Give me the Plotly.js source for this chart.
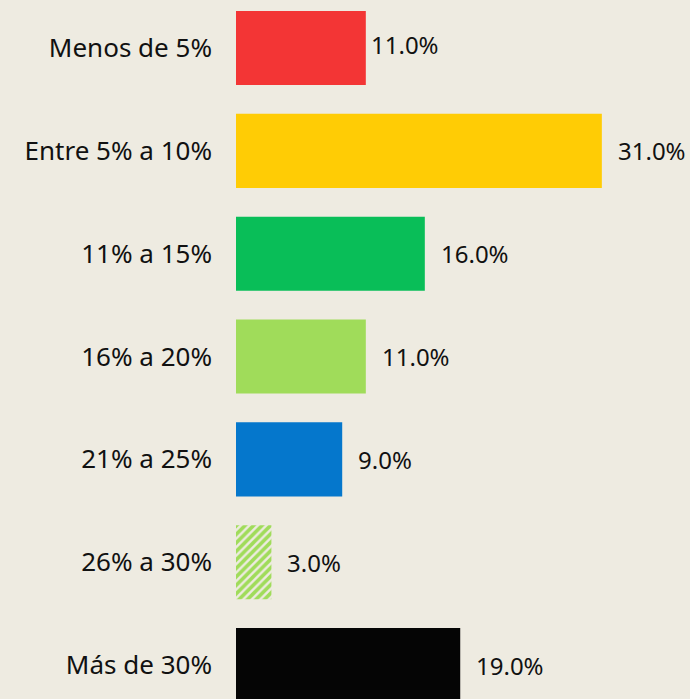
<!DOCTYPE html>
<html>
<head>
<meta charset="utf-8">
<script src="https://cdn.plot.ly/plotly-3.0.1.min.js"></script>
<style>html,body{margin:0;padding:0;background:#EEEBE1;}#chart{width:690px;height:699px;}</style>
</head>
<body>
<div id="chart"></div>
<script>
const categories = ["Menos de 5%", "Entre 5% a 10%", "11% a 15%", "16% a 20%", "21% a 25%", "26% a 30%", "Más de 30%"];
const values = [11.0, 31.0, 16.0, 11.0, 9.0, 3.0, 19.0];
const labels = ["11.0%", "31.0%", "16.0%", "11.0%", "9.0%", "3.0%", "19.0%"];
const colors = ["#F33535", "#FFCC05", "#09BE58", "#A0DC5A", "#0577CC", "#A0DC5A", "#050505"];

const FONT = "Noto Sans, DejaVu Sans, sans-serif";

const trace = {
  type: "bar",
  orientation: "h",
  y: categories,
  x: values,
  width: 0.72,
  marker: {
    color: colors,
    line: {width: 0},
    pattern: {
      shape: categories.map((c, i) => i === 5 ? "/" : ""),
      fgcolor: "#A0DC5A",
      bgcolor: "#FFFFFF",
      size: 6,
      solidity: 0.6,
      fillmode: "replace"
    }
  },
  hoverinfo: "none"
};

const annotations = categories.map((c, i) => ({
  x: values[i], y: c, xref: "x", yref: "y",
  text: labels[i], showarrow: false, xanchor: "left",
  xshift: i === 0 ? 3 : 14, yshift: i === 0 ? 4 : 0,
  font: {family: FONT, size: 24, color: "#111111"}
}));

const layout = {
  width: 690, height: 699,
  margin: {l: 236, r: 0, t: 0, b: 0, pad: 0},
  paper_bgcolor: "#EEEBE1",
  plot_bgcolor: "#EEEBE1",
  showlegend: false,
  xaxis: {range: [0, 38.47], visible: false, fixedrange: true},
  yaxis: {
    type: "category",
    range: [6.33, -0.467],
    showgrid: false, zeroline: false, showline: false,
    ticks: "", ticklabelstandoff: 23,
    tickfont: {family: FONT, size: 26, color: "#111111"}
  },
  annotations: annotations
};

Plotly.newPlot("chart", [trace], layout, {displayModeBar: false, staticPlot: true});
</script>
</body>
</html>
